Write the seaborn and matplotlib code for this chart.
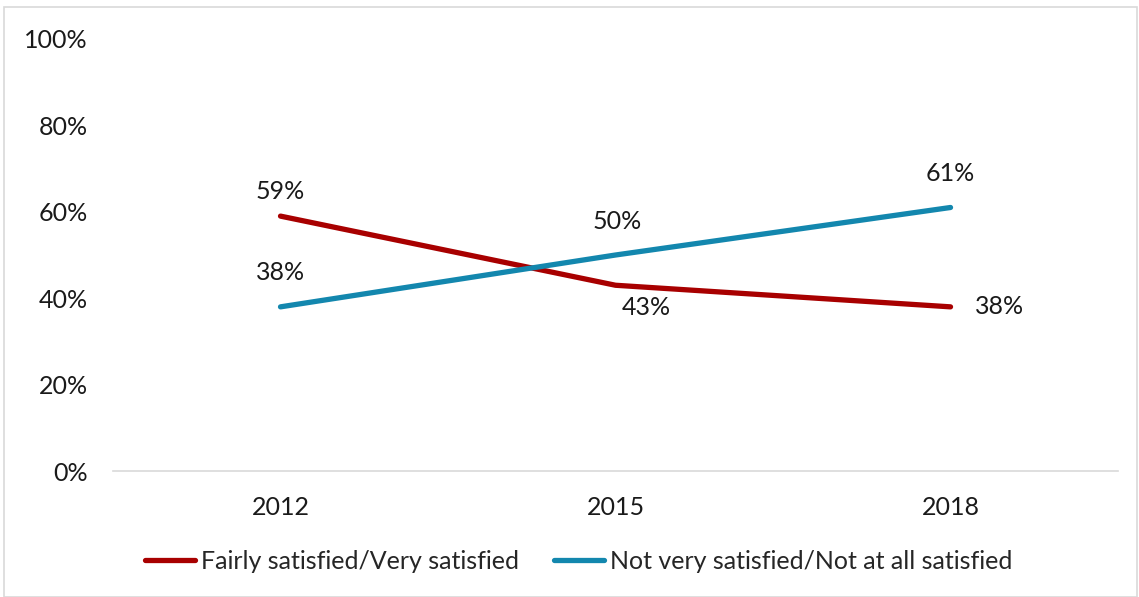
import matplotlib
matplotlib.use("Agg")
import matplotlib.pyplot as plt
import seaborn as sns
import pandas as pd
from matplotlib.patches import Rectangle

years = ["2012", "2015", "2018"]
satisfied = [59, 43, 38]
not_satisfied = [38, 50, 61]
series_names = ["Fairly satisfied/Very satisfied", "Not very satisfied/Not at all satisfied"]
colors = ["#A80000", "#1387AE"]

sns.set_theme(style="white")
plt.rcParams["font.family"] = ["Lato", "DejaVu Sans"]

df = pd.DataFrame({
    "year": years * 2,
    "value": satisfied + not_satisfied,
    "series": [series_names[0]] * 3 + [series_names[1]] * 3,
})
df["x"] = list(range(len(years))) * 2

fig = plt.figure(figsize=(11.39, 5.97), dpi=100)
ax = fig.add_axes([0.0992, 0.211, 0.8824, 0.7237])

sns.lineplot(data=df, x="x", y="value", hue="series", palette=colors,
             linewidth=3.8, ax=ax, legend=True, sort=False)
for line in ax.get_lines():
    line.set_solid_capstyle("round")

ax.set_xlim(-0.5, 2.5)
ax.set_ylim(0, 100)
ax.set_xticks(range(len(years)))
ax.set_xticklabels(years)
ax.set_yticks(range(0, 101, 20))
ax.set_yticklabels([f"{v}%" for v in range(0, 101, 20)])
ax.set_xlabel("")
ax.set_ylabel("")
ax.tick_params(axis="both", length=0, labelsize=18, colors="#1a1a1a")
ax.tick_params(axis="y", pad=18)
ax.tick_params(axis="x", pad=18)
for s in ["top", "right", "left"]:
    ax.spines[s].set_visible(False)
ax.spines["bottom"].set_color("#D9D9D9")
ax.spines["bottom"].set_linewidth(1.2)

# data labels
lab = dict(fontsize=18, color="#1a1a1a", textcoords="offset points",
           ha="center", va="center")
ax.annotate(f"{satisfied[0]}%", (0, satisfied[0]), xytext=(0, 18), **lab)
ax.annotate(f"{satisfied[1]}%", (1, satisfied[1]), xytext=(22, -16), **lab)
ax.annotate(f"{satisfied[2]}%", (2, satisfied[2]), xytext=(35, 0), **lab)
ax.annotate(f"{not_satisfied[0]}%", (0, not_satisfied[0]), xytext=(0, 24.5), **lab)
ax.annotate(f"{not_satisfied[1]}%", (1, not_satisfied[1]), xytext=(1, 24), **lab)
ax.annotate(f"{not_satisfied[2]}%", (2, not_satisfied[2]), xytext=(0, 24.5), **lab)

handles, labels = ax.get_legend_handles_labels()
ax.get_legend().remove()
fig.legend(handles, labels, loc="center", bbox_to_anchor=(0.508, 0.06), ncol=2,
           frameon=False, fontsize=18, handlelength=2.0, handletextpad=0.25,
           columnspacing=1.4)

fig.patches.append(Rectangle((4 / 1139, 0.0), 1 - 6 / 1139, 1 - 7 / 597,
                             transform=fig.transFigure, fill=False,
                             edgecolor="#D9D9D9", linewidth=1.2))

fig.savefig("out.png", dpi=100)
